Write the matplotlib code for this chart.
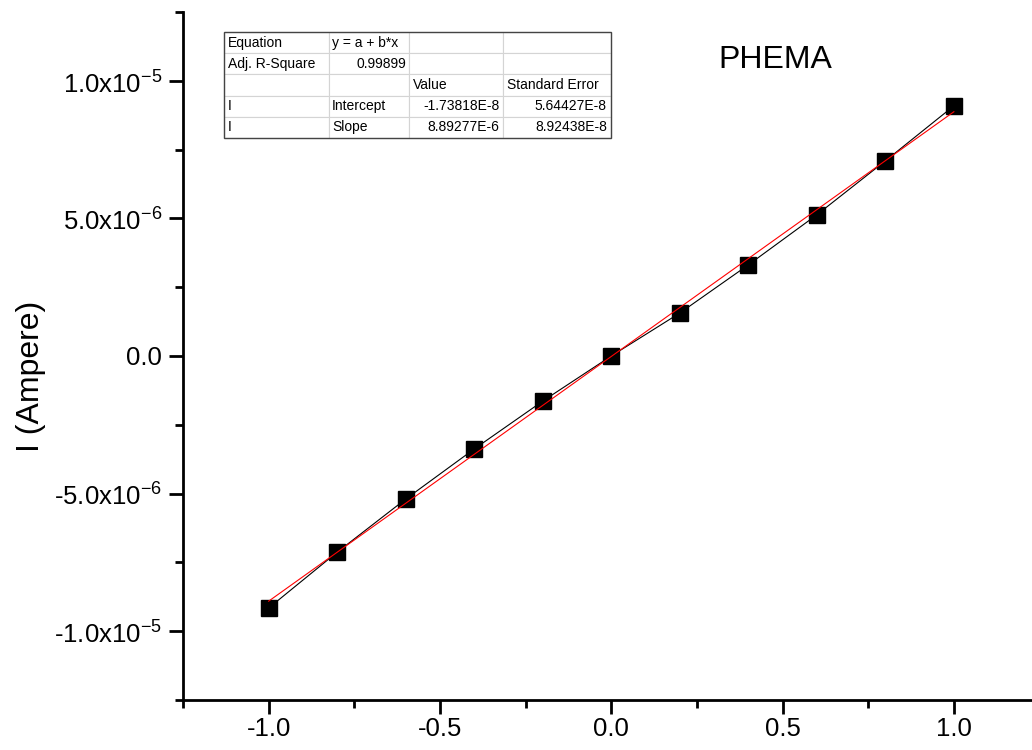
import numpy as np
import matplotlib.pyplot as plt
from matplotlib.ticker import MultipleLocator, FuncFormatter
from matplotlib.patches import Rectangle

plt.rcParams['font.family'] = ['Liberation Sans', 'DejaVu Sans']
plt.rcParams['mathtext.fontset'] = 'custom'
plt.rcParams['mathtext.rm'] = 'Liberation Sans'

# voltage (V) and measured current (A)
volts = [-1.0, -0.8, -0.6, -0.4, -0.2, 0.0, 0.2, 0.4, 0.6, 0.8, 1.0]
current = [-9.16e-6, -7.13e-6, -5.20e-6, -3.38e-6, -1.64e-6, 0.0,
           1.56e-6, 3.31e-6, 5.13e-6, 7.09e-6, 9.09e-6]

# linear fit results
intercept = -1.73818e-8
slope = 8.89277e-6
fit_rows = [
    ['Equation', 'y = a + b*x', '', ''],
    ['Adj. R-Square', '0.99899', '', ''],
    ['', '', 'Value', 'Standard Error'],
    ['I', 'Intercept', '-1.73818E-8', '5.64427E-8'],
    ['I', 'Slope', '8.89277E-6', '8.92438E-8'],
]
right_cells = {(1, 1), (3, 2), (3, 3), (4, 2), (4, 3)}

fig = plt.figure(figsize=(10.32, 7.5), dpi=100)
ax = fig.add_axes([0.1773, 0.0667, 0.830, 0.9173])

x = np.array(volts)
ax.plot(x, current, color='black', lw=0.8, marker='s', ms=11.5,
        mfc='black', mec='black', zorder=3)
ax.plot(x, intercept + slope * x, color='red', lw=0.8, zorder=4)

ax.set_xlim(-1.25, 1.25)
ax.set_ylim(-1.25e-5, 1.25e-5)

ax.xaxis.set_major_locator(MultipleLocator(0.5))
ax.xaxis.set_minor_locator(MultipleLocator(0.25))
ax.yaxis.set_major_locator(MultipleLocator(5e-6))
ax.yaxis.set_minor_locator(MultipleLocator(2.5e-6))


def yfmt(v, pos):
    if abs(v) < 1e-12:
        return '0.0'
    exp = int(np.floor(np.log10(abs(v)) + 1e-9))
    mant = v / 10 ** exp
    return '%.1fx10$^{\\mathregular{%d}}$' % (mant, exp)


ax.xaxis.set_major_formatter(FuncFormatter(lambda v, p: '%.1f' % v))
ax.yaxis.set_major_formatter(FuncFormatter(yfmt))

for s in ['top', 'right']:
    ax.spines[s].set_visible(False)
for s in ['left', 'bottom']:
    ax.spines[s].set_linewidth(2)

ax.tick_params(which='major', direction='out', length=10, width=2,
               labelsize=18.5)
ax.tick_params(axis='x', which='major', pad=2)
ax.tick_params(axis='y', which='major', pad=5)
ax.tick_params(which='minor', direction='out', length=6, width=2)

ax.set_ylabel('I (Ampere)', fontsize=23)
ax.yaxis.set_label_coords(-0.16, 0.47)

ax.text(0.625, 0.930, 'PHEMA', transform=ax.transAxes, fontsize=23,
        ha='left', va='center')

tbl = ax.table(cellText=fit_rows, colWidths=[105, 80, 94, 108],
               cellLoc='left', bbox=[0.0479, 0.817, 0.452, 0.154])
tbl.auto_set_font_size(False)
tbl.set_fontsize(10)
for (r, c), cell in tbl.get_celld().items():
    cell.set_edgecolor('#d4d4d4')
    cell.set_linewidth(0.8)
    cell.PAD = 0.04
    if (r, c) in right_cells:
        cell._loc = 'right'
        cell.get_text().set_ha('right')
ax.add_patch(Rectangle((0.0479, 0.817), 0.452, 0.154, transform=ax.transAxes,
                       fill=False, edgecolor='#444444', lw=1, zorder=10))

fig.savefig('out.png', dpi=100)
